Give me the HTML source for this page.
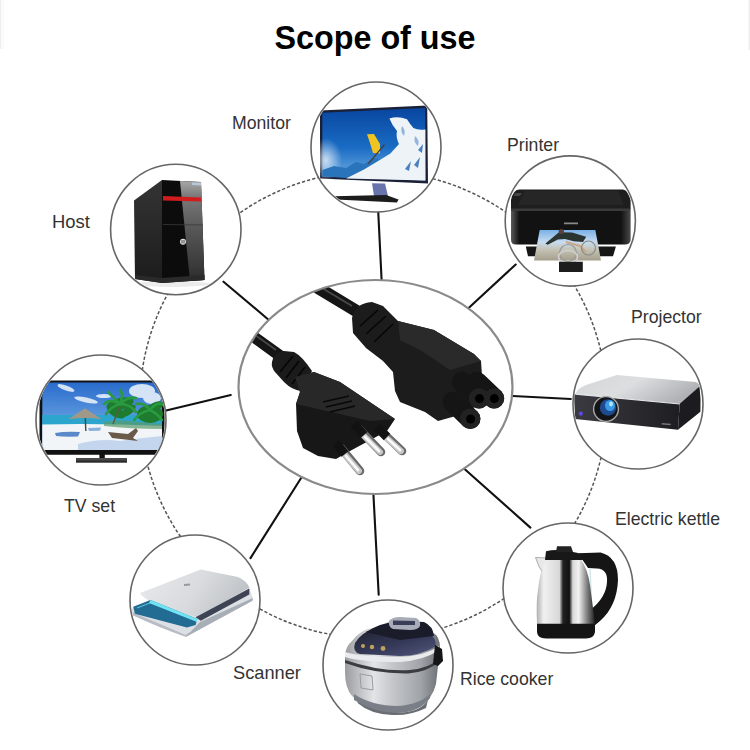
<!DOCTYPE html>
<html><head><meta charset="utf-8">
<style>
html,body{margin:0;padding:0;background:#fff;}
body{width:750px;height:750px;position:relative;overflow:hidden;font-family:"Liberation Sans",sans-serif;}
.t{position:absolute;color:#333;font-size:19px;white-space:nowrap;line-height:1;transform:scaleX(0.93);transform-origin:0 0;}
#title{position:absolute;left:0;width:750px;text-align:center;top:20px;font-size:34px;font-weight:bold;color:#000;line-height:1;transform:scaleX(0.95);}
svg{position:absolute;left:0;top:0;}
</style></head><body>
<svg width="750" height="750" viewBox="0 0 750 750">
<defs>
  <clipPath id="cE"><ellipse cx="375.5" cy="387" rx="136" ry="106"/></clipPath>
  <clipPath id="cMon"><circle cx="376" cy="147" r="64"/></clipPath>
  <clipPath id="cPri"><circle cx="570.3" cy="221" r="64"/></clipPath>
  <clipPath id="cPro"><circle cx="638" cy="404" r="64"/></clipPath>
  <clipPath id="cKet"><circle cx="568" cy="588" r="64"/></clipPath>
  <clipPath id="cRic"><circle cx="388" cy="665" r="64"/></clipPath>
  <clipPath id="cSca"><circle cx="195" cy="600" r="64"/></clipPath>
  <clipPath id="cTV"><circle cx="101" cy="420" r="64"/></clipPath>
  <clipPath id="cHost"><circle cx="175.8" cy="229.5" r="64.2"/></clipPath>
  <linearGradient id="gPin" x1="0" y1="0" x2="1" y2="1">
    <stop offset="0" stop-color="#666"/><stop offset="0.5" stop-color="#f4f4f4"/><stop offset="1" stop-color="#777"/>
  </linearGradient>
  <linearGradient id="gSky" x1="0" y1="0" x2="0" y2="1">
    <stop offset="0" stop-color="#0846a0"/><stop offset="0.55" stop-color="#1a6cc4"/><stop offset="1" stop-color="#78b2e6"/>
  </linearGradient>
  <radialGradient id="gGlow" cx="0.5" cy="0.5" r="0.5">
    <stop offset="0" stop-color="#ffffff" stop-opacity="0.95"/><stop offset="1" stop-color="#ffffff" stop-opacity="0"/>
  </radialGradient>
  <linearGradient id="gTVsky" x1="0" y1="0" x2="0" y2="1">
    <stop offset="0" stop-color="#2a6ccc"/><stop offset="1" stop-color="#8cc0ee"/>
  </linearGradient>
  <linearGradient id="gSteel" x1="0" y1="0" x2="1" y2="0">
    <stop offset="0" stop-color="#b0b0b0"/><stop offset="0.12" stop-color="#f0f0f0"/><stop offset="0.39" stop-color="#d8d8d8"/><stop offset="0.45" stop-color="#222"/><stop offset="0.56" stop-color="#111"/><stop offset="0.62" stop-color="#d8d8d8"/><stop offset="0.72" stop-color="#f2f2f2"/><stop offset="0.85" stop-color="#8a8a8a"/><stop offset="1" stop-color="#1e1e1e"/>
  </linearGradient>
  <linearGradient id="gCook" x1="0" y1="0" x2="1" y2="0">
    <stop offset="0" stop-color="#9a9ca0"/><stop offset="0.3" stop-color="#e2e4e6"/><stop offset="0.5" stop-color="#c4c6ca"/><stop offset="0.8" stop-color="#a0a4a8"/><stop offset="1" stop-color="#6a6e74"/>
  </linearGradient>
  <linearGradient id="gLid" x1="0" y1="0" x2="1" y2="1">
    <stop offset="0" stop-color="#20222e"/><stop offset="0.55" stop-color="#363a5a"/><stop offset="1" stop-color="#52587e"/>
  </linearGradient>
  <linearGradient id="gProTop" x1="0" y1="0" x2="1" y2="0.4">
    <stop offset="0" stop-color="#d4d6d8"/><stop offset="0.5" stop-color="#dcdee0"/><stop offset="1" stop-color="#b0b2b6"/>
  </linearGradient>
  <linearGradient id="gProFront" x1="0" y1="0" x2="1" y2="0">
    <stop offset="0" stop-color="#3a3a40"/><stop offset="1" stop-color="#1e1e22"/>
  </linearGradient>
  <linearGradient id="gHostSide" x1="0" y1="0" x2="0" y2="1">
    <stop offset="0" stop-color="#343434"/><stop offset="1" stop-color="#1c1c1c"/>
  </linearGradient>
  <linearGradient id="gHostRef" x1="0" y1="0" x2="0" y2="1">
    <stop offset="0" stop-color="#a8a8a8"/><stop offset="0.15" stop-color="#7a7a7a"/><stop offset="0.5" stop-color="#555"/><stop offset="0.85" stop-color="#3a3a3a"/><stop offset="1" stop-color="#2a2a2a"/>
  </linearGradient>
  <linearGradient id="gScanLid" x1="0" y1="0" x2="1" y2="0.3">
    <stop offset="0" stop-color="#e8eaec"/><stop offset="0.6" stop-color="#d8dadd"/><stop offset="1" stop-color="#c0c4c8"/>
  </linearGradient>
  <linearGradient id="gPriFront" x1="0" y1="0" x2="1" y2="0">
    <stop offset="0" stop-color="#5a5a5a"/><stop offset="0.07" stop-color="#121212"/><stop offset="0.92" stop-color="#121212"/><stop offset="1" stop-color="#4a4a4a"/>
  </linearGradient>
  <linearGradient id="gPaper" x1="0" y1="0" x2="0" y2="1">
    <stop offset="0" stop-color="#78b0e8"/><stop offset="0.4" stop-color="#c8dcee"/><stop offset="0.65" stop-color="#c4c2b4"/><stop offset="1" stop-color="#a49e8c"/>
  </linearGradient>
</defs>
<rect x="0" y="0" width="1.2" height="49" fill="#eeeeee"/><rect x="2.5" y="0" width="1" height="49" fill="#f6f6f6"/><rect x="748.5" y="0" width="1.5" height="50" fill="#eeeeee"/>
<circle cx="373.4" cy="404.7" r="233.7" fill="none" stroke="#555" stroke-width="1.5" stroke-dasharray="3.3 2"/>
<g stroke="#111" stroke-width="2.1" stroke-linecap="round">
  <line x1="378.2" y1="211" x2="381.7" y2="282"/>
  <line x1="467" y1="309.5" x2="515.7" y2="264.5"/>
  <line x1="508" y1="395.8" x2="570.8" y2="399"/>
  <line x1="462" y1="466.8" x2="530.4" y2="527.6"/>
  <line x1="373.2" y1="490" x2="378.7" y2="594.6"/>
  <line x1="303" y1="475" x2="250.5" y2="558.1"/>
  <line x1="163" y1="411.2" x2="230.8" y2="395"/>
  <line x1="223.5" y1="281.7" x2="270" y2="321"/>
</g>
<ellipse cx="375.5" cy="387" rx="137" ry="107" fill="#fff" stroke="#8a8a8a" stroke-width="2.2"/>
<g fill="#fff" stroke="#666" stroke-width="1.6">
  <circle cx="376" cy="147" r="65"/>
  <circle cx="570.3" cy="221" r="65.1"/>
  <circle cx="638" cy="404" r="65"/>
  <circle cx="568" cy="588" r="65"/>
  <circle cx="388" cy="665" r="65"/>
  <circle cx="195" cy="600" r="65"/>
  <circle cx="101" cy="420" r="65"/>
  <circle cx="175.8" cy="229.5" r="65.2"/>
</g>
<!-- CENTRAL CABLES -->
<g clip-path="url(#cE)">
  <line x1="236" y1="324" x2="283" y2="358" stroke="#151515" stroke-width="11.5" stroke-linecap="round"/>
  <line x1="244" y1="327" x2="276" y2="350" stroke="#4a4a4a" stroke-width="1.6"/>
  <line x1="305" y1="280" x2="363" y2="315" stroke="#151515" stroke-width="12.5" stroke-linecap="round"/>
  <line x1="312" y1="282" x2="352" y2="306" stroke="#4a4a4a" stroke-width="1.6"/>
  <!-- left strain relief -->
  <path d="M272 362 Q274 352 284 351 L294 352 Q302 356 312 371 L301 391 Q292 390 284 382 L275 372 Q271 367 272 362 Z" fill="#1b1b1b"/>
  <g stroke="#050505" stroke-width="1.6">
    <line x1="280" y1="372" x2="293" y2="356"/><line x1="286" y1="378" x2="299" y2="361"/><line x1="292" y1="384" x2="305" y2="367"/>
  </g>
  <!-- left plug body -->
  <path d="M296 404 L300 392 L295 377 L314 372 L340 382 L395 419 L387 431 L350 451 L336 459 L318 456 L303 448 L297 431 Z" fill="#171717"/>
  <path d="M296 404 L300 392 L295 377 L314 372 L340 382 L395 419 L370 421 Z" fill="#282828"/>
  <g stroke="#080808" stroke-width="1.6" fill="none">
    <path d="M323 402 L349 396"/><path d="M326 407 L352 401"/><path d="M330 412 L355 406"/>
  </g>
  <!-- pins -->
  <g stroke-linecap="round">
    <line x1="341" y1="448" x2="360" y2="471" stroke="#6a6a6a" stroke-width="8.6"/>
    <line x1="359" y1="429" x2="381" y2="452" stroke="#6a6a6a" stroke-width="8.6"/>
    <line x1="382" y1="432" x2="402" y2="451" stroke="#6a6a6a" stroke-width="8.6"/>
    <line x1="340" y1="449" x2="359" y2="471" stroke="#c8c8c8" stroke-width="6"/>
    <line x1="358" y1="430" x2="380" y2="452" stroke="#c8c8c8" stroke-width="6"/>
    <line x1="381" y1="433" x2="401" y2="451" stroke="#c8c8c8" stroke-width="6"/>
    <line x1="346" y1="456" x2="358" y2="470" stroke="#fafafa" stroke-width="2.6"/>
    <line x1="365" y1="437" x2="379" y2="451" stroke="#fafafa" stroke-width="2.6"/>
    <line x1="388" y1="439" x2="400" y2="450" stroke="#fafafa" stroke-width="2.6"/>
  </g>
  <g stroke="#121212" stroke-width="9" stroke-linecap="butt">
    <line x1="336" y1="443" x2="345" y2="454"/>
    <line x1="354" y1="424" x2="364" y2="435"/>
    <line x1="377" y1="427" x2="387" y2="437"/>
  </g>
  <!-- right C5 connector -->
  <path d="M352 318 Q355 303 372 302 L383 306 L398 321 L434 330 L474 354 L481 361 L482 376 L480 400 L470 412 L438 421 L425 412 L400 402 L395 391 L393 372 L383 361 L366 348 L353 333 Z" fill="#1c1c1c"/>
  <path d="M398 321 L434 330 L474 354 L481 361 L450 370 L420 350 L400 340 Z" fill="#2a2a2a"/>
  <g stroke="#070707" stroke-width="1.6" fill="none">
    <path d="M360 326 L378 310"/><path d="M366 334 L386 316"/><path d="M374 342 L393 324"/>
  </g>
  <g stroke="#151515" stroke-width="20.4" stroke-linecap="round">
    <line x1="462" y1="382" x2="479" y2="398.4"/>
    <line x1="477" y1="382" x2="494" y2="398.4"/>
    <line x1="453" y1="402" x2="470.2" y2="418.8"/>
  </g>
  <g fill="#222"><circle cx="479" cy="398.4" r="10.2"/><circle cx="494" cy="398.4" r="10.2"/><circle cx="470.2" cy="418.8" r="10.2"/></g>
  <g fill="#000"><circle cx="479.5" cy="398.6" r="4.5"/><circle cx="494.4" cy="398.6" r="4.5"/><circle cx="470.6" cy="419" r="4.5"/></g>
</g>
<!-- MONITOR -->
<g clip-path="url(#cMon)">
  <path d="M320 110.4 L427.2 105.4 L428 183.4 L320 178.6 Z" fill="#1a2036"/>
  <path d="M322.4 112.8 L425.2 108 L425.4 180.4 L322.4 176.4 Z" fill="url(#gSky)"/>
  <ellipse cx="326" cy="160" rx="16" ry="22" fill="url(#gGlow)" opacity="0.75"/>
  <path d="M322.4 170 L334 166 L346 168 L356 162 L364 164 L374 158 L384 160 L392 157 L360 178.5 L322.4 176.4 Z" fill="#2a74bc"/>
  <path d="M389.4 118.4 Q398 115.5 407 119.2 Q410 124 413.4 128 Q418 130.5 425.4 129.5 L425.4 180.4 L346 178.4 L364 169.5 L378.6 160.7 L390.4 153.4 L399 144 Q395.5 137 397 131 Q392 125 389.4 118.4 Z" fill="#eef3f8"/>
  <path d="M402 126 Q406 130 404 136 Q400 132 402 126 Z M415 136 Q420 140 418 146 Q413 142 415 136 Z" fill="#6a9ad0" opacity="0.7"/>
  <path d="M414 165 L420 157 L418 168 Z M405 169 L411 161 L409 171 Z M418 150 L423 144 L422 153 Z" fill="#4a80c0"/>
  <path d="M367 134.3 L374 134 L380 144 L380 153.4 L373 153 L370 143 Z" fill="#f0c420"/>
  <line x1="368.4" y1="163.6" x2="384.5" y2="144.6" stroke="#4a3a30" stroke-width="1.3"/>
  <path d="M372 183.2 L385 183.6 L388 196 L374 196 Z" fill="#6a74ac"/>
  <path d="M334 196.2 L386 195 L398.5 199.6 L397 202.6 L336 199.6 Z" fill="#1c1c1c"/>
</g>

<!-- HOST -->
<g clip-path="url(#cHost)">
  <ellipse cx="172" cy="284" rx="38" ry="3" fill="#ececec"/>
  <path d="M134 200.5 L162 180 L162 283 L135 279 Z" fill="url(#gHostSide)"/>
  <path d="M162 180 L201 182 L204.5 280 L162 283 Z" fill="#0c0c0c"/>
  <path d="M180 181 L201 182 L204.5 280 L190 281 Z" fill="url(#gHostRef)"/>
  <path d="M192 182.5 L201 183 L201 185.5 L192 185 Z" fill="#b8c8d8"/>
  <path d="M163 196 L201 197.5 L201 201.5 L163 200.5 Z" fill="#d01c1c"/>
  <line x1="163" y1="224.5" x2="203" y2="225" stroke="#3a3a3a" stroke-width="0.8"/>
  <circle cx="183" cy="241.7" r="3" fill="#e0e0e0"/>
  <path d="M182 240 L182 243.5 M184 240 L184 243.5" stroke="#222" stroke-width="0.8"/>
  <path d="M135 275 L162 278 L204.5 275 L204.5 280 L162 283 L135 279 Z" fill="#2a2a2a"/>
</g>

<!-- PRINTER -->
<g clip-path="url(#cPri)">
  <path d="M519 189.5 L622.8 189.5 Q628 190 630.6 200 L630.6 209 L511 209 L511 200 Q513 190 519 189.5 Z" fill="#1e1e1e"/>
  <path d="M525 191 L618 191 L624 205 L518 205 Z" fill="#262626"/>
  <path d="M515 193 L522 193 L520 196 L514 196 Z" fill="#444"/>
  <path d="M511 208.5 L630.6 208.5 L630.6 211 L511 211 Z" fill="#3a3a3a"/>
  <path d="M511 211 L630.6 211 L630.6 240 Q630 244.5 625 244.5 L516 244.5 Q511 244.5 511 240 Z" fill="url(#gPriFront)"/>
  <path d="M564 222.5 L578 222.5 L578 224.3 L564 224.3 Z" fill="#8a8a8a"/>
  <path d="M525.8 246.5 L615.9 246.5 L613 256.3 L528 256.3 Z" fill="#161616"/>
  <path d="M539.7 229.9 L595.3 229.9 L601 260.5 L534 260.5 Z" fill="url(#gPaper)"/>
  <path d="M545.4 243.5 L559 232.2 L572 232.5 L586.2 236.7 L583 242 L573.8 241.3 L565 239 L557.9 239.5 L547.7 244.7 Z" fill="#2a3430"/>
  <circle cx="561.3" cy="231.5" r="2.6" fill="#5a4038"/>
  <path d="M566 242 L580 246 L586 252" stroke="#c8a888" stroke-width="2.2" fill="none"/>
  <circle cx="568" cy="253" r="8.5" fill="none" stroke="#9a9a96" stroke-width="1.2"/>
  <circle cx="588.5" cy="248" r="7" fill="none" stroke="#8a8a86" stroke-width="1.2"/>
  <ellipse cx="568" cy="257" rx="9.5" ry="6.5" fill="none" stroke="#d0d0d0" stroke-width="1.6"/>
  <path d="M559 261.7 L582.8 261.7 L582.8 271.9 L559 271.9 Z" fill="#1c1c1c"/>
</g>

<!-- PROJECTOR -->
<g clip-path="url(#cPro)">
  <path d="M575.4 393.8 Q578 388 586 385 L616.8 374.9 L695.9 382.1 Q700 384 699.5 387 L679.7 403.7 Z" fill="url(#gProTop)"/>
  <path d="M574 394 L679.7 403.7 L678 429.7 L575 419 Z" fill="url(#gProFront)"/>
  <path d="M679.7 403.7 L699.5 386.6 Q701 398 700.4 411.8 L678 429.7 Z" fill="#1c1c20"/>
  <line x1="575.4" y1="394.2" x2="679.7" y2="404" stroke="#e4e6e8" stroke-width="1.2"/>
  <circle cx="606" cy="409" r="12.4" fill="#141416" stroke="#a8a8a8" stroke-width="1.4"/>
  <circle cx="608" cy="407.5" r="8.2" fill="#1e4a90"/>
  <ellipse cx="610" cy="405.5" rx="5" ry="5.5" fill="#3a9ae6"/>
  <ellipse cx="611" cy="404" rx="2" ry="2.4" fill="#b0e4ff"/>
  <circle cx="580.8" cy="413.6" r="2.2" fill="#5a4ae0"/>
  <path d="M661.7 423 L670.7 423.8 L670.7 425.3 L661.7 424.5 Z" fill="#777"/>
</g>

<!-- KETTLE -->
<g clip-path="url(#cKet)">
  <path d="M578 553.3 L600.6 552.6 Q618 557 618 580 Q617 606 600 621 L594 626 L590 610 Q606 598 607 582 Q608 569 597 568.5 L588 568 Z" fill="#151515"/>
  <path d="M590 569 L592 608" stroke="#b8d8e0" stroke-width="1.2" opacity="0.7"/>
  <path d="M535.5 557.5 L548 558 L544 575 Q538 566 535.5 557.5 Z" fill="#e8e8e8" stroke="#999" stroke-width="0.8"/>
  <path d="M546 559.6 L581 559.6 Q588 570 590 585 L595 624 L537 624 Q536 600 538 590 Q540 570 546 559.6 Z" fill="url(#gSteel)"/>
  <path d="M546 551.2 Q560 548 581 554 L583 560 L545 560 Z" fill="#181818"/>
  <path d="M557 546.3 L571 546.3 L573 552 L556 552 Z" fill="#222"/>
  <path d="M537 623.7 L595 623.7 L595 632 Q594 638.5 586 638.5 L546 638.5 Q537.5 638.5 537 632 Z" fill="#141414"/>
</g>

<!-- RICE COOKER -->
<g clip-path="url(#cRic)">
  <path d="M352 641 Q360 630 372 628 L432 632 Q440 636 440 648 L436 684 Q432 700 420 706 Q400 714 380 710 Q362 706 352 696 Q345 688 345 672 L345 655 Q346 646 352 641 Z" fill="url(#gCook)"/>
  <path d="M357.6 698 Q380 712 400 712.6 Q420 712 428 700 L426 708 Q410 716 392 715 Q370 714 357.6 703 Z" fill="#6a6e74"/>
  <path d="M354 700 Q375 713 398 713 Q420 712 430 698 L430 694 Q420 704 398 706 Q372 706 354 694 Z" fill="#7a7e86"/>
  <path d="M355 643 Q362 632 372 630 L430 634 Q436 638 436 646 Q420 656 400 656 L360 654 Q352 652 355 643 Z" fill="url(#gLid)"/>
  <path d="M366 632 Q380 623 398 621 L424 622 Q433 626 434 636 L400 640 Z" fill="#1a1c2a"/>
  <path d="M389 621 Q392 617 400 617 L416 618 Q421 620 420 626 Q418 630 410 630 L393 629 Q388 627 389 621 Z" fill="#a8acb8"/>
  <path d="M393 620.5 L415 621 L415 625 L393 625 Z" fill="#3a3e58"/>
  <path d="M345 657 Q360 662 400 662 Q425 660 439 650 L439 646 Q425 656 400 657 Q362 657 345 652 Z" fill="#e8eaec"/>
  <path d="M345 660 Q380 672 410 670 Q430 668 440 658 L440 661 Q428 672 408 673.5 Q375 674 345 663 Z" fill="#3a3c40"/>
  <path d="M435 645 L442 649 L443 661 L438 666 L433 664 Z" fill="#151515"/>
  <g fill="#c0a060"><circle cx="363" cy="646" r="2"/><circle cx="372" cy="647" r="2.2"/><circle cx="383" cy="648.5" r="2.4"/></g>
  <path d="M360 674 L372 676 L373 690 L361 688 Z" fill="none" stroke="#9a9ca0" stroke-width="1"/>
</g>

<!-- SCANNER -->
<g clip-path="url(#cSca)">
  <path d="M131.5 611 L185.2 634.5 L252.8 598 L252.8 600.5 L186 637 Q160 628 132 615 Z" fill="#b8bcc4"/>
  <path d="M131.5 609 L150 600 L197 617 L249.3 588 L252.8 598 L185.2 634.5 L131.5 612 Z" fill="#dcdfe3"/>
  <path d="M200 622 L252.8 598 L252 601 L186 636.5 Z" fill="#a8aeb6"/>
  <path d="M140.1 593 L200.8 569.5 L238 577 Q247 581 249.3 587.7 L197.3 617.2 L150.5 601.6 Q142 597 140.1 593 Z" fill="url(#gScanLid)"/>
  <path d="M195.6 617.2 L249.3 588.6 L249.3 594.5 L200.8 620.7 Z" fill="#3e4454"/>
  <path d="M133.2 606.8 L150.5 599.9 L197.3 618.9 L195.6 625 L186.9 627.6 L134.9 613.7 Z" fill="#226c94"/>
  <path d="M150.5 599.9 L197.3 618.9 L197 622 L149 603 Z" fill="#70e4f4"/>
  <path d="M137 608 L150 603" stroke="#60c8e0" stroke-width="1" fill="none"/>
  <path d="M184 584 L190 583.5 L190 585.5 L184 586 Z" fill="#999"/>
</g>

<!-- TV -->
<g clip-path="url(#cTV)">
  <path d="M39.5 380.4 L164.6 380.4 L164.6 454.8 L39.5 454.8 Z" fill="#111"/>
  <path d="M42.3 382.5 L162 382.5 L162 450 L42.3 450 Z" fill="url(#gTVsky)"/>
  <g fill="#f0f6fc" opacity="0.85">
    <ellipse cx="142" cy="391" rx="13" ry="7"/><ellipse cx="152" cy="398" rx="9" ry="6"/>
    <ellipse cx="66" cy="388" rx="9" ry="2.5" transform="rotate(20 66 388)"/><ellipse cx="86" cy="400" rx="12" ry="2.5" transform="rotate(12 86 400)"/><ellipse cx="104" cy="396" rx="8" ry="2"/>
  </g>
  <path d="M42.3 415 L162 415 L162 425 L42.3 425 Z" fill="#2ca6cc"/>
  <path d="M42.3 424.5 Q100 423 162 426 L162 450 L42.3 450 Z" fill="#f2f5f8"/>
  <path d="M55 433 Q66 431 80 432 L78 436.5 Q64 437 56 436 Z" fill="#5a88c8"/>
  <path d="M88 428 L101 427.5 L100 430.8 L89 431 Z" fill="#8ab0dc"/>
  <path d="M78 444 Q100 438 120 441 Q140 438 162 436 L162 450 L78 450 Z" fill="#c4d6ee"/>
  <path d="M104 422 Q120 419 140 422 L162 424 L162 429 Q130 429 104 426 Z" fill="#5a9a6a" opacity="0.7"/>
  <g fill="#1e7c2e">
    <ellipse cx="120" cy="404" rx="14" ry="6" transform="rotate(-15 120 404)"/>
    <ellipse cx="116" cy="412" rx="10" ry="5" transform="rotate(30 116 412)"/>
    <ellipse cx="128" cy="411" rx="9" ry="4" transform="rotate(-35 128 411)"/>
    <ellipse cx="150" cy="414" rx="13" ry="9"/>
    <ellipse cx="156" cy="406" rx="8" ry="4" transform="rotate(-20 156 406)"/>
  </g>
  <g stroke="#2a9a40" stroke-width="2.6" stroke-linecap="round" fill="none">
    <path d="M120 404 Q110 398 104 404"/><path d="M120 404 Q112 406 106 414"/>
    <path d="M120 404 Q124 394 120 390"/><path d="M120 404 Q128 396 136 398"/><path d="M120 404 Q130 404 136 412"/>
    <path d="M120 404 Q112 396 108 392"/>
    <path d="M150 410 Q144 402 136 404"/><path d="M150 410 Q140 412 134 420"/>
    <path d="M150 410 Q156 402 162 404"/><path d="M150 410 Q158 414 162 420"/>
  </g>
  <path d="M120 406 Q116 416 113 424" stroke="#5a5a40" stroke-width="1.5" fill="none"/>
  <path d="M68.3 419.2 L85 408.3 L101.7 419.2 Q85 417 68.3 419.2 Z" fill="#a09888"/>
  <line x1="85.3" y1="418" x2="85.8" y2="431" stroke="#4a4440" stroke-width="1.4"/>
  <path d="M108 432 L128 434 L136 428 L138 431 L133 438 L138 441 L112 438 Z" fill="#6a5a4a"/>
  <path d="M99.4 453.6 L104.8 453.6 L104.8 459 L99.4 459 Z" fill="#111"/>
  <path d="M76 458 L127 458 L127 462.5 L76 462.5 Z" fill="#4a4a4a"/>
  <path d="M76 460.5 L127 460.5 L127 462.5 L76 462.5 Z" fill="#2a2a2a"/>
</g>
</svg>
<div id="title">Scope of use</div>
<div class="t" style="left:232px;top:113px">Monitor</div>
<div class="t" style="left:507px;top:135px">Printer</div>
<div class="t" style="left:631px;top:307px">Projector</div>
<div class="t" style="left:615px;top:509px">Electric kettle</div>
<div class="t" style="left:460px;top:669px">Rice cooker</div>
<div class="t" style="left:233px;top:663px;transform:scaleX(0.96)">Scanner</div>
<div class="t" style="left:64px;top:496px">TV set</div>
<div class="t" style="left:52px;top:212px;transform:scaleX(0.97)">Host</div>
</body></html>
